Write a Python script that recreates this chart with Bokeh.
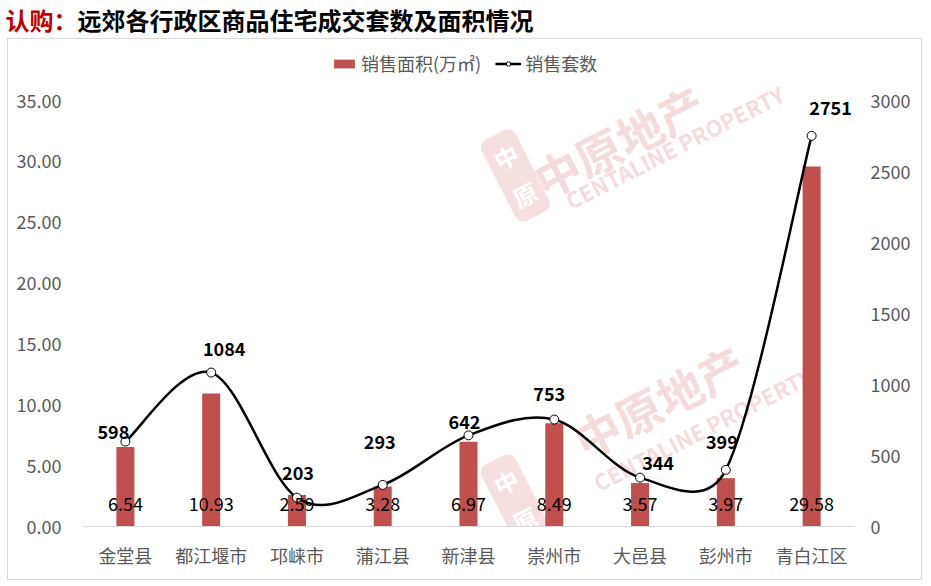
import math
from bokeh.plotting import figure
from bokeh.layouts import column
from bokeh.models import (ColumnDataSource, Range1d, LinearAxis, Legend, LegendItem,
                          Label, FixedTicker, NumeralTickFormatter)
from bokeh.core.properties import value
from bokeh.embed import file_html
from bokeh.resources import INLINE

# ---------------- data ----------------
categories = ["金堂县", "都江堰市", "邛崃市", "蒲江县", "新津县", "崇州市", "大邑县", "彭州市", "青白江区"]
area = [6.54, 10.93, 2.59, 3.28, 6.97, 8.49, 3.57, 3.97, 29.58]      # 销售面积(万㎡)
units = [598, 1084, 203, 293, 642, 753, 344, 399, 2751]               # 销售套数
left_ticks = [0, 5, 10, 15, 20, 25, 30, 35]
right_ticks = [0, 500, 1000, 1500, 2000, 2500, 3000]
title_red = "认购："
title_black = "远郊各行政区商品住宅成交套数及面积情况"
area_name = "销售面积(万㎡)"
units_name = "销售套数"

cnt_dx = [-12, 13, 1, -3, -4, -5, 18, -4, 19]
cnt_dy = [-10, -24, -25, -43, -13, -26, -15, -28, -28]

FONT = "Noto Sans CJK SC"
GREY = "#595959"
BAR = "#c0504d"

# ---------------- title strip ----------------
TW, TH = 931, 38
tfig = figure(width=TW, height=TH, output_backend="svg", toolbar_location=None,
              x_range=Range1d(0, TW), y_range=Range1d(0, TH),
              x_axis_location=None, y_axis_location=None, title=None,
              min_border=0, min_border_left=0, min_border_right=0,
              min_border_top=0, min_border_bottom=0)
tfig.frame_align = False
tfig.grid.visible = False
tfig.outline_line_color = None
tfig.add_layout(Label(x=5, y=TH - 19, x_units="screen", y_units="screen", text=title_red,
                      text_font=FONT, text_font_size="24px", text_font_style="bold",
                      text_color="#c00000", text_baseline="middle"))
tfig.add_layout(Label(x=5 + 72, y=TH - 19, x_units="screen", y_units="screen", text=title_black,
                      text_font=FONT, text_font_size="24px", text_font_style="bold",
                      text_color="black", text_baseline="middle"))

# ---------------- main chart ----------------
W, H = 915, 542
ML, MR, MT, MB = 74, 69, 9, 55
FW, FH = W - ML - MR, H - MT - MB
AXIS_SPAN = 426
ymax_l = left_ticks[-1] * FH / AXIS_SPAN
ymax_r = right_ticks[-1] * FH / AXIS_SPAN

n = len(categories)
xs = list(range(n))

p = figure(width=W, height=H, output_backend="svg", toolbar_location=None,
           x_range=Range1d(-0.5, n - 0.5), y_range=Range1d(0, ymax_l),
           min_border_left=ML, min_border_right=MR, min_border_top=MT, min_border_bottom=MB)
p.frame_align = False
p.extra_y_ranges = {"cnt": Range1d(0, ymax_r)}
p.outline_line_color = None
p.xgrid.visible = False
p.ygrid.visible = False
p.margin = (0, 0, 0, 7)
p.styles = {"border": "1px solid #d9d9d9"}

xa = p.xaxis[0]
xa.ticker = FixedTicker(ticks=xs)
xa.major_label_overrides = {i: c for i, c in enumerate(categories)}
xa.axis_line_color = "#d9d9d9"
xa.major_tick_line_color = None
xa.minor_tick_line_color = None
xa.major_label_text_font = FONT
xa.major_label_text_font_size = "18px"
xa.major_label_text_color = GREY
xa.major_label_standoff = 9

ya = p.yaxis[0]
ya.ticker = FixedTicker(ticks=left_ticks)
ya.formatter = NumeralTickFormatter(format="0.00")
ya.axis_line_color = None
ya.major_tick_line_color = None
ya.minor_tick_line_color = None
ya.major_label_text_font = FONT
ya.major_label_text_font_size = "18px"
ya.major_label_text_color = GREY
ya.major_label_standoff = 15

ra = LinearAxis(y_range_name="cnt", ticker=FixedTicker(ticks=right_ticks))
ra.axis_line_color = None
ra.major_tick_line_color = None
ra.minor_tick_line_color = None
ra.major_label_text_font = FONT
ra.major_label_text_font_size = "18px"
ra.major_label_text_color = GREY
ra.major_label_standoff = 10
p.add_layout(ra, "right")

wm_color = "#e9b9b9"
for (wx, wy) in [(433, 351), (433, 26)]:
    p.add_layout(Label(x=wx, y=wy, x_units="screen", y_units="screen", text="中\n原",
                       text_font=FONT, text_font_size="24px", text_font_style="bold",
                       text_color="white", background_fill_color=wm_color, background_fill_alpha=0.45,
                       padding=7, border_radius=9, angle=27, angle_units="deg",
                       text_align="center", text_baseline="middle", level="underlay"))
for (wx, wy, txt, fs) in [(536, 386, "中原地产", "46px"), (592, 380, "CENTALINE PROPERTY", "22px"),
                          (576, 126, "中原地产", "46px"), (620, 98, "CENTALINE PROPERTY", "22px")]:
    p.add_layout(Label(x=wx, y=wy, x_units="screen", y_units="screen", text=txt,
                       text_font=FONT, text_font_size=fs, text_font_style="bold",
                       text_color=wm_color, text_alpha=0.5, angle=27, angle_units="deg",
                       text_align="center", text_baseline="middle", level="underlay"))

src = ColumnDataSource(dict(x=xs, area=area, units=units,
                            area_lbl=[f"{v:.2f}" for v in area],
                            cnt_lbl=[str(v) for v in units],
                            dx=cnt_dx, dy=cnt_dy))
bars = p.vbar(x="x", top="area", width=0.21, source=src, fill_color=BAR, line_color=None)

sx = FW / n
sy = FH / ymax_r
P = [(i * sx, u * sy) for i, u in zip(xs, units)]
seg = dict(x0=[], y0=[], x1=[], y1=[], cx0=[], cy0=[], cx1=[], cy1=[])
for k in range(n - 1):
    p0 = P[k - 1] if k > 0 else P[k]
    p1, p2 = P[k], P[k + 1]
    p3 = P[k + 2] if k + 2 < n else P[k + 1]
    d12 = math.hypot(p2[0] - p1[0], p2[1] - p1[1])
    t1 = ((p2[0] - p0[0]) / 6, (p2[1] - p0[1]) / 6)
    t2 = ((p3[0] - p1[0]) / 6, (p3[1] - p1[1]) / 6)
    l1, l2 = math.hypot(*t1), math.hypot(*t2)
    if l1 > d12 / 2:
        t1 = (t1[0] * d12 / 2 / l1, t1[1] * d12 / 2 / l1)
    if l2 > d12 / 2:
        t2 = (t2[0] * d12 / 2 / l2, t2[1] * d12 / 2 / l2)
    seg["x0"].append(p1[0] / sx); seg["y0"].append(p1[1] / sy)
    seg["x1"].append(p2[0] / sx); seg["y1"].append(p2[1] / sy)
    seg["cx0"].append((p1[0] + t1[0]) / sx); seg["cy0"].append((p1[1] + t1[1]) / sy)
    seg["cx1"].append((p2[0] - t2[0]) / sx); seg["cy1"].append((p2[1] - t2[1]) / sy)
p.bezier(source=ColumnDataSource(seg), x0="x0", y0="y0", x1="x1", y1="y1",
         cx0="cx0", cy0="cy0", cx1="cx1", cy1="cy1",
         line_color="black", line_width=2.5, y_range_name="cnt")
pts = p.scatter(x="x", y="units", source=src, y_range_name="cnt", size=9,
                fill_color="white", line_color="black", line_width=1)

p.text(x="x", y=0, text="area_lbl", source=src, text_font=value(FONT), text_font_size="18px",
       text_color="black", text_align="center", text_baseline="middle", y_offset=-23)
p.text(x="x", y="units", text="cnt_lbl", source=src, y_range_name="cnt",
       text_font=value(FONT), text_font_size="18px", text_font_style="bold",
       text_color="black", text_align="center", text_baseline="middle",
       x_offset="dx", y_offset="dy")

leg_line = p.line(x=[-10, -9], y=[-10, -10], line_color="black", line_width=2.5, y_range_name="cnt")
leg = Legend(items=[LegendItem(label=area_name, renderers=[bars]),
                    LegendItem(label=units_name, renderers=[leg_line, pts])],
             orientation="horizontal", location=(249, 450),
             label_text_font=FONT, label_text_font_size="18px", label_text_color=GREY,
             glyph_width=26, glyph_height=11, spacing=14, padding=0, margin=0,
             label_standoff=4, border_line_color=None, background_fill_alpha=0)
p.add_layout(leg, "center")

open("out.html", "w").write(file_html(column(tfig, p, spacing=0), INLINE))
